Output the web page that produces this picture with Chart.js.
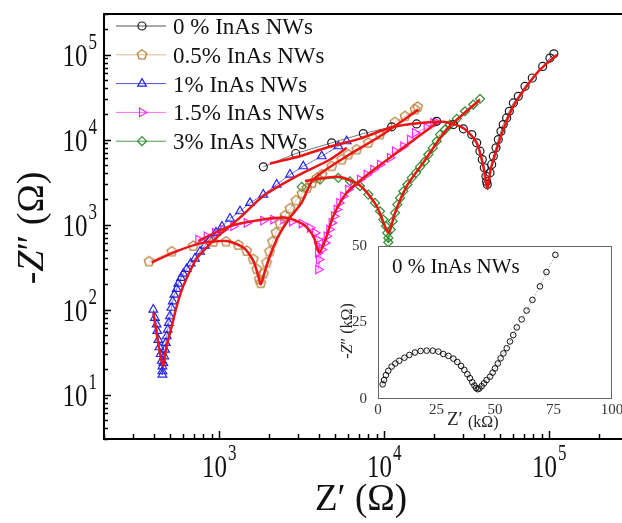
<!DOCTYPE html>
<html><head><meta charset="utf-8">
<script src="https://cdn.jsdelivr.net/npm/chart.js@4/dist/chart.umd.min.js"></script>
<style>
html,body{margin:0;padding:0;background:#fff;overflow:hidden;width:622px;height:523px;}
#main{position:absolute;left:0;top:0;}
#inset{position:absolute;left:330px;top:228px;}
</style></head><body>
<canvas id="main" width="640" height="523"></canvas>
<canvas id="inset" width="292" height="212"></canvas>
<script>
// ---------- series names ----------
const seriesNames = ['0 % InAs NWs', '0.5% InAs NWs', '1% InAs NWs', '1.5% InAs NWs', '3% InAs NWs'];
const insetTitle = '0 % InAs NWs';

// ---------- tick labels ----------
const xTickExp = [3, 4, 5];
const yTickExp = [1, 2, 3, 4, 5];
const insetXTicks = [0, 25, 50, 75, 100];
const insetYTicks = [0, 25, 50];

// ---------- 0 % InAs NWs (Z' , -Z'' in ohm) ----------
const s0_re = [1848, 2904, 4800, 7460, 11090, 15700, 20780, 26240, 30130, 33900, 36300, 38000, 39250, 40380, 41300, 41700, 42100, 43740, 44760, 45800, 47550, 49090, 50960, 52600, 55150, 57250, 60560, 64900, 71250, 78900, 91200, 100900, 106600];
const s0_im = [4780, 6850, 9150, 11760, 14100, 15280, 16400, 15000, 13360, 11450, 9150, 7300, 5820, 4660, 3710, 3210, 2965, 4060, 5090, 6370, 7990, 10000, 12510, 15000, 17980, 21500, 26980, 32230, 42240, 52970, 72460, 90900, 102000];
const f0_re = [2027, 3083, 4690, 7130, 11090, 16440, 22800, 30130, 36300, 39810, 42100, 44150, 47990, 52600, 60560, 72950, 87900, 111700];
const f0_im = [5230, 6370, 8280, 10270, 13940, 15620, 16150, 13700, 9150, 4870, 2640, 4450, 7640, 13100, 24600, 42240, 66370, 99500];

// ---------- 0.5% InAs NWs ----------
const s05_re = [375, 515, 695, 920, 1098, 1303, 1465, 1607, 1685, 1747, 1782, 1848, 1932, 2015, 2101, 2206, 2333, 2501, 2682, 2916, 3171, 3401, 3645, 3909, 4192, 4800, 5519, 6051, 6803, 7998, 9419, 11610, 13350, 15350, 15920];
const s05_im = [367, 481, 560, 625, 630, 575, 489, 391, 298, 227, 204, 265, 357, 481, 631, 805, 1028, 1276, 1543, 1916, 2315, 2688, 3076, 3524, 3874, 4850, 5821, 6668, 7627, 9144, 11450, 15980, 18790, 22540, 24200];
const f05_re = [389, 526, 764, 1109, 1397, 1607, 1722, 1782, 1892, 2027, 2280, 2680, 3155, 3715, 5920, 9420, 16070];
const f05_im = [357, 468, 601, 640, 536, 374, 249, 199, 284, 427, 733, 1205, 1808, 3397, 6370, 10940, 22490];

// ---------- 1% InAs NWs ----------
const s1_re = [398, 407, 417, 421, 427, 433, 441, 448, 452, 452, 452, 458, 464, 469, 474, 480, 487, 494, 502, 512, 522, 534, 552, 564, 586, 605, 634, 671, 712, 764, 819, 878, 955, 1038, 1161, 1335, 1535, 1848, 2228, 2682, 3229, 4175, 5263, 5917];
const s1_im = [100, 80, 67, 56, 44, 36, 30, 25, 21.5, 18.8, 17.2, 23.6, 28.2, 33.8, 40.6, 48.5, 58.2, 69.8, 83.4, 105, 125, 150, 175, 202, 236, 265, 301, 348, 398, 481, 566, 667, 805, 947, 1177, 1433, 1799, 2253, 2956, 3874, 4850, 6363, 8340, 9550];
const f1_re = [398, 454, 480, 515, 552, 605, 713, 764, 1010, 1334, 1848, 2946, 4690, 5920];
const f1_im = [92, 21.8, 37.5, 64, 110, 190, 373, 447, 767, 1205, 2163, 3710, 5820, 7990];

// ---------- 1.5% InAs NWs ----------
const s15_re = [746, 839, 942, 1057, 1216, 1466, 1848, 2125, 2443, 2758, 3158, 3545, 3802, 3926, 3981, 3965, 4020, 3981, 4175, 4371, 4476, 4642, 4800, 4957, 5147, 5338, 5643, 6051, 6489, 7124, 7823, 8577, 9419, 10827, 11610, 13040, 14320, 15350, 18070, 19820, 20780];
const s15_im = [667, 728, 798, 873, 955, 1047, 1114, 1145, 1145, 1085, 1028, 915, 798, 667, 556, 464, 387, 296, 508, 609, 728, 873, 1047, 1253, 1501, 1799, 2153, 2581, 2956, 3384, 3874, 4437, 5080, 6092, 7285, 8340, 10000, 11990, 13740, 15720, 15980];
const f15_re = [747, 1161, 1848, 2560, 3228, 3715, 4037, 4478, 4910, 5920, 8180, 11880, 20780];
const f15_im = [640, 960, 1151, 1205, 1005, 733, 468, 733, 1259, 2367, 4060, 6980, 15700];

// ---------- 3% InAs NWs ----------
const s3_re = [3158, 4077, 5263, 6196, 7124, 7998, 8783, 9419, 9861, 10240, 10430, 10573, 10573, 10934, 11243, 11610, 11990, 12450, 13040, 13790, 14660, 15560, 16460, 17650, 18480, 19650, 20780, 21760, 23330, 25010, 27470, 30850, 34630, 38020];
const s3_im = [2777, 3384, 3543, 3232, 2825, 2253, 1799, 1433, 1145, 955, 798, 697, 620, 873, 1094, 1374, 1718, 2060, 2465, 2956, 3543, 4056, 4775, 5559, 6668, 7980, 9550, 11450, 13120, 15000, 17520, 21530, 25820, 30130];
const f3_re = [3304, 5260, 7130, 8990, 10570, 11620, 13680, 17220, 23880, 38000];
const f3_im = [3245, 3650, 2884, 1649, 803, 1380, 2833, 5330, 13100, 29430];

// ---------- inset: 0 % InAs NWs, linear (kOhm) ----------
const in_re = [2.0, 2.6, 3.4, 4.4, 5.8, 7.4, 9.1, 11.3, 13.4, 15.8, 18.2, 20.8, 23.4, 25.8, 27.9, 30.1, 32.2, 33.9, 35.5, 36.9, 38.2, 39.3, 40.3, 41.2, 41.9, 42.6, 43.3, 44.3, 45.3, 46.4, 47.9, 49.0, 50.0, 51.2, 52.4, 53.6, 55.0, 56.4, 57.8, 59.3, 61.4, 63.5, 66.0, 69.2, 72.0, 75.8];
const in_im = [4.8, 6.2, 7.8, 9.2, 10.6, 11.6, 12.5, 13.5, 14.4, 15.2, 15.7, 15.8, 15.8, 15.5, 14.7, 14.1, 13.2, 12.1, 10.8, 9.5, 8.1, 6.8, 5.5, 4.4, 3.6, 3.2, 3.4, 4.2, 5.1, 6.2, 7.3, 8.6, 10.0, 11.6, 13.3, 14.9, 16.6, 18.8, 20.9, 23.4, 26.0, 28.9, 32.4, 36.8, 41.5, 47.1];

const SERIF = "'Liberation Serif','Times New Roman','DejaVu Serif',serif";
const pts = (xs, ys) => xs.map((v, i) => ({x: v, y: ys[i]}));

function pentagonImg(color, r) {
  const c = document.createElement('canvas');
  const s = Math.ceil(r * 2 + 4);
  c.width = s; c.height = s;
  const g = c.getContext('2d');
  g.strokeStyle = color; g.lineWidth = 1.3;
  g.beginPath();
  for (let k = 0; k < 5; k++) {
    const a = -Math.PI / 2 + k * 2 * Math.PI / 5;
    const px = s / 2 + r * Math.cos(a), py = s / 2 + r * Math.sin(a);
    k ? g.lineTo(px, py) : g.moveTo(px, py);
  }
  g.closePath(); g.stroke();
  return c;
}

const C_BLACK = '#1a1a1a', C_BROWN = '#b5803a', C_BLUE = '#2222e6', C_MAG = '#ff26ff', C_GREEN = '#2a8c2a', C_RED = '#ec1515';
const penta = pentagonImg(C_BROWN, 5);

function dataSet(label, xs, ys, color, lineColor, style, radius, rot) {
  return {label, data: pts(xs, ys), showLine: true, borderColor: lineColor, borderWidth: 0.8,
    pointStyle: style, pointRadius: radius, pointRotation: rot || 0,
    pointBorderColor: color, pointBackgroundColor: 'rgba(0,0,0,0)', pointBorderWidth: 1.2,
    markerColor: color, order: 2, tension: 0};
}
function fitSet(xs, ys) {
  return {label: 'fit', data: pts(xs, ys), showLine: true, borderColor: C_RED, borderWidth: 2.5,
    pointRadius: 0, tension: 0.25, order: 0};
}

const datasets = [
  dataSet(seriesNames[0], s0_re, s0_im, C_BLACK, '#555', 'circle', 4),
  dataSet(seriesNames[1], s05_re, s05_im, C_BROWN, '#d9bd98', penta, 5),
  dataSet(seriesNames[2], s1_re, s1_im, C_BLUE, '#5050e0', 'triangle', 5),
  dataSet(seriesNames[3], s15_re, s15_im, C_MAG, '#ff66ff', 'triangle', 5, 90),
  dataSet(seriesNames[4], s3_re, s3_im, C_GREEN, '#4a9e4a', 'rectRot', 4.5),
  fitSet(f0_re, f0_im), fitSet(f05_re, f05_im), fitSet(f1_re, f1_im), fitSet(f15_re, f15_im), fitSet(f3_re, f3_im)
];

function drawMarker(ctx, ds, x, y) {
  const st = ds.pointStyle, r = ds.pointRadius;
  ctx.save();
  ctx.strokeStyle = ds.markerColor; ctx.lineWidth = 1.2;
  if (typeof st === 'object') { ctx.drawImage(st, x - st.width / 2, y - st.height / 2); ctx.restore(); return; }
  ctx.beginPath();
  if (st === 'circle') ctx.arc(x, y, r, 0, Math.PI * 2);
  else if (st === 'triangle') {
    let a = (ds.pointRotation || 0) * Math.PI / 180;
    for (let k = 0; k < 3; k++) {
      const px = x + Math.sin(a) * r, py = y - Math.cos(a) * r;
      k ? ctx.lineTo(px, py) : ctx.moveTo(px, py);
      a += 2 * Math.PI / 3;
    }
    ctx.closePath();
  } else if (st === 'rectRot') {
    ctx.moveTo(x, y - r); ctx.lineTo(x + r, y); ctx.lineTo(x, y + r); ctx.lineTo(x - r, y); ctx.closePath();
  }
  ctx.stroke(); ctx.restore();
}

function powLabel(ctx, exp, cx, baseY, align) {
  const big = '25px ' + SERIF, small = '17px ' + SERIF;
  ctx.font = big; const w1 = ctx.measureText('10').width;
  ctx.font = small; const w2 = ctx.measureText(String(exp)).width;
  const left = align === 'right' ? cx - w1 - w2 - 1 : cx - (w1 + w2 + 1) / 2;
  ctx.save(); ctx.translate(left, baseY); ctx.scale(1, 1.3);
  ctx.textAlign = 'left'; ctx.textBaseline = 'alphabetic'; ctx.fillStyle = '#111';
  ctx.font = big; ctx.fillText('10', 0, 0);
  ctx.font = small; ctx.fillText(String(exp), w1 + 1, -13);
  ctx.restore();
}

function richText(ctx, parts, x, y) { // centered horizontally on x, baseline y
  let W = 0;
  parts.forEach(p => { ctx.font = p.f; p.w = ctx.measureText(p.t).width; W += p.w; });
  let cx = x - W / 2;
  ctx.textAlign = 'left'; ctx.textBaseline = 'alphabetic';
  parts.forEach(p => { ctx.font = p.f; ctx.fillText(p.t, cx, y); cx += p.w; });
}

const axesPlugin = {
  id: 'axesDraw',
  afterDraw(chart) {
    const {ctx, chartArea: a, scales: {x, y}} = chart;
    ctx.save();
    ctx.strokeStyle = '#000';
    // frame
    ctx.lineWidth = 2;
    ctx.beginPath();
    ctx.moveTo(a.right, a.top); ctx.lineTo(a.left, a.top); ctx.lineTo(a.left, a.bottom); ctx.lineTo(a.right, a.bottom);
    ctx.stroke();
    // ticks (inward)
    ctx.lineWidth = 1.5;
    ctx.beginPath();
    for (let e = 2; e <= 5; e++) for (let k = 1; k <= 9; k++) {
      const v = k * Math.pow(10, e);
      if (v < x.min || v > x.max) continue;
      const px = Math.round(x.getPixelForValue(v)) + 0.5;
      const len = k === 1 ? 8 : 5;
      ctx.moveTo(px, a.bottom); ctx.lineTo(px, a.bottom - len);
    }
    for (let e = 0; e <= 5; e++) for (let k = 1; k <= 9; k++) {
      const v = k * Math.pow(10, e);
      if (v < y.min || v > y.max) continue;
      const py = Math.round(y.getPixelForValue(v)) + 0.5;
      const len = k === 1 ? 7 : 4;
      ctx.moveTo(a.left, py); ctx.lineTo(a.left + len, py);
    }
    ctx.stroke();
    // tick labels
    xTickExp.forEach(e => powLabel(ctx, e, x.getPixelForValue(Math.pow(10, e)), a.bottom + 38, 'center'));
    yTickExp.forEach(e => powLabel(ctx, e, a.left - 7, y.getPixelForValue(Math.pow(10, e)) + 11.5, 'right'));
    // axis titles
    ctx.fillStyle = '#111';
    richText(ctx, [{t: 'Z\u2032 (\u03A9)', f: '37px ' + SERIF}], 361, 510);
    ctx.save();
    ctx.translate(33, 228); ctx.rotate(-Math.PI / 2);
    richText(ctx, [{t: '-', f: '38px ' + SERIF}, {t: 'Z', f: 'italic 38px ' + SERIF}, {t: '\u2033 (\u03A9)', f: '38px ' + SERIF}], 0, 10);
    ctx.restore();
    // legend
    seriesNames.forEach((name, i) => {
      const ds = chart.data.datasets[i];
      const yc = a.top + 12 + i * 28.8;
      ctx.strokeStyle = ds.borderColor; ctx.lineWidth = 1;
      ctx.beginPath(); ctx.moveTo(a.left + 12, yc); ctx.lineTo(a.left + 62, yc); ctx.stroke();
      drawMarker(ctx, ds, a.left + 38, yc);
      ctx.fillStyle = '#111'; ctx.font = '23px ' + SERIF; ctx.textAlign = 'left'; ctx.textBaseline = 'alphabetic';
      ctx.fillText(name, a.left + 69, yc + 8);
    });
    ctx.restore();
  }
};

new Chart(document.getElementById('main'), {
  type: 'scatter',
  data: {datasets},
  options: {
    responsive: false, animation: false, devicePixelRatio: 1,
    layout: {padding: {left: 104, top: 14, right: 12, bottom: 84}},
    plugins: {legend: {display: false}, tooltip: {enabled: false}},
    scales: {
      x: {type: 'logarithmic', min: 200, max: 300000, ticks: {display: false}, grid: {display: false}, border: {display: false}, afterFit: s => { s.height = 0; }},
      y: {type: 'logarithmic', min: 3, max: 300000, ticks: {display: false}, grid: {display: false}, border: {display: false}, afterFit: s => { s.width = 0; }}
    }
  },
  plugins: [axesPlugin]
});

// ---------- inset ----------
const insetPlugin = {
  id: 'insetDraw',
  beforeDraw(chart) {
    const {ctx, chartArea: a} = chart;
    ctx.save(); ctx.fillStyle = '#fff'; ctx.fillRect(a.left, a.top, a.right - a.left, a.bottom - a.top); ctx.restore();
  },
  afterDraw(chart) {
    const {ctx, chartArea: a} = chart;
    ctx.save();
    ctx.strokeStyle = '#666'; ctx.lineWidth = 1;
    ctx.strokeRect(a.left + 0.5, a.top + 0.5, a.right - a.left - 1, a.bottom - a.top - 1);
    ctx.fillStyle = '#111';
    ctx.font = '21px ' + SERIF; ctx.textAlign = 'left'; ctx.textBaseline = 'alphabetic';
    ctx.fillText(insetTitle, a.left + 14, a.top + 27);
    ctx.fillStyle = '#222';
    ctx.font = '19px ' + SERIF; ctx.fillText('Z\u2032', 117, 197);
    ctx.font = '16px ' + SERIF; ctx.fillText('(k\u03A9)', 138, 199);
    ctx.save();
    ctx.translate(17, 103); ctx.rotate(-Math.PI / 2);
    richText(ctx, [{t: '-', f: '16px ' + SERIF}, {t: 'Z', f: 'italic 16px ' + SERIF}, {t: '\u2033 (k\u03A9)', f: '16px ' + SERIF}], 0, 5);
    ctx.restore();
    ctx.restore();
  }
};

new Chart(document.getElementById('inset'), {
  type: 'scatter',
  data: {datasets: [{
    label: insetTitle, data: pts(in_re, in_im), showLine: true,
    borderColor: '#8a8a8a', borderWidth: 0.8, borderDash: [1.5, 2],
    pointStyle: 'circle', pointRadius: 2.8, pointBorderWidth: 1,
    pointBorderColor: '#111', pointBackgroundColor: 'rgba(0,0,0,0)'
  }]},
  options: {
    responsive: false, animation: false, devicePixelRatio: 1,
    layout: {padding: {left: 0, top: 18, right: 10, bottom: 0}},
    plugins: {legend: {display: false}, tooltip: {enabled: false}},
    scales: {
      x: {type: 'linear', min: 0, max: 100, grid: {display: false}, border: {display: false},
          afterBuildTicks: s => { s.ticks = insetXTicks.map(v => ({value: v})); },
          ticks: {font: {family: SERIF, size: 15}, color: '#333', padding: -6, maxRotation: 0, autoSkip: false},
          afterFit: s => { s.height = 41; }},
      y: {type: 'linear', min: 0, max: 50, grid: {display: false}, border: {display: false},
          afterBuildTicks: s => { s.ticks = insetYTicks.map(v => ({value: v})); },
          ticks: {font: {family: SERIF, size: 15}, color: '#333', padding: 3},
          afterFit: s => { s.width = 48; }}
    }
  },
  plugins: [insetPlugin]
});
</script>
</body></html>
